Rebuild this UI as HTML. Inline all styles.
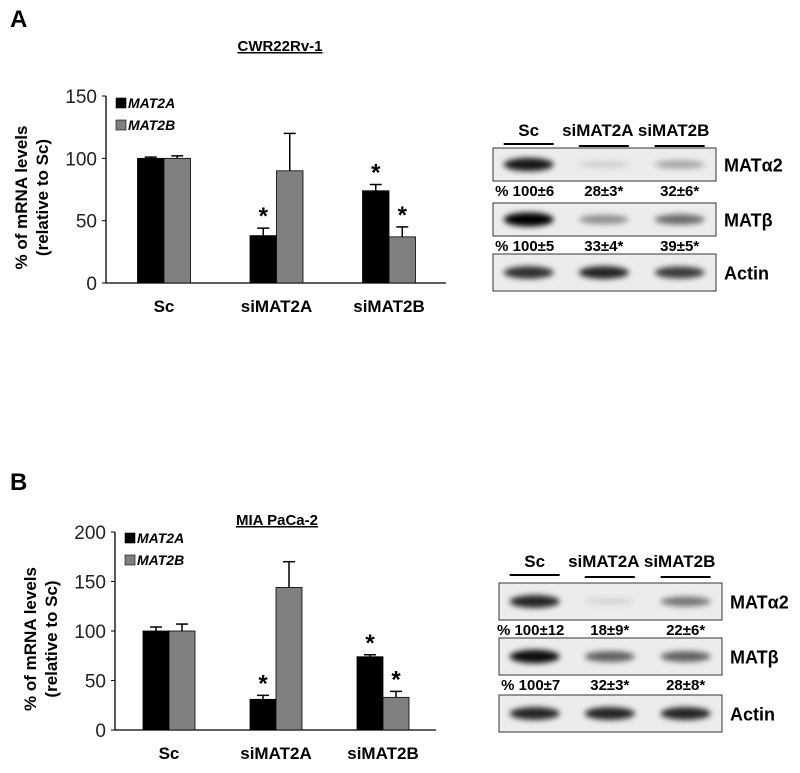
<!DOCTYPE html>
<html><head><meta charset="utf-8"><style>
body{margin:0;background:#fff;width:800px;height:768px;overflow:hidden;font-family:"Liberation Sans",Arial,sans-serif}
svg text{font-family:"Liberation Sans",Arial,sans-serif}
</style></head><body>
<svg id="fig" width="800" height="768" viewBox="0 0 800 768">
<defs><filter id="bl" x="-20%" y="-100%" width="140%" height="300%"><feGaussianBlur stdDeviation="3"/></filter></defs>
<text x="10" y="27" font-size="24" font-weight="bold">A</text>
<text x="280" y="51" font-size="15" font-weight="bold" text-anchor="middle" text-decoration="underline">CWR22Rv-1</text>
<text x="10" y="490" font-size="24" font-weight="bold">B</text>
<text x="277" y="525" font-size="15" font-weight="bold" text-anchor="middle" text-decoration="underline">MIA PaCa-2</text>
<g id="chartA"></g>
<g id="chartB"></g>
<g id="blots"></g>
</svg>
<script>
const categories=["Sc","siMAT2A","siMAT2B"];
const seriesNames=["MAT2A","MAT2B"];
const aMat2a=[100,38,74], aMat2aErr=[1,6,5];
const aMat2b=[100,90,37], aMat2bErr=[2,30,8];
const aSig=[[false,false],[true,false],[true,true]];
const aTicks=[0,50,100,150];
const bMat2a=[100,31,74], bMat2aErr=[4,4,2];
const bMat2b=[100,144,33], bMat2bErr=[7,26,6];
const bSig=[[false,false],[true,false],[true,true]];
const bTicks=[0,50,100,150,200];
const NS="http://www.w3.org/2000/svg";
function mk(p,t,a,txt){const e=document.createElementNS(NS,t);for(const k in a)e.setAttribute(k,a[k]);if(txt!==undefined)e.textContent=txt;p.appendChild(e);return e;}
function chart(g,cfg){
  const y=v=>cfg.y0-(v/cfg.max)*(cfg.y0-cfg.yTop);
  const ax=mk(g,'line',{x1:cfg.ax,y1:cfg.yTop,x2:cfg.ax,y2:cfg.y0,stroke:'#000','stroke-width':1.3});
  
  const xl=mk(g,'line',{x1:cfg.ax,y1:cfg.y0,x2:cfg.axEnd,y2:cfg.y0,stroke:'#000','stroke-width':1.3});
  
  cfg.ticks.forEach(t=>{
    mk(g,'line',{x1:cfg.ax-4,y1:y(t),x2:cfg.ax,y2:y(t),stroke:'#000'});
    const tl=mk(g,'text',{x:cfg.ax-9,y:y(t)+7,'font-size':19,'text-anchor':'end',fill:'#222'},t);
    
  });
  const yt=mk(g,'text',{transform:`translate(${cfg.ax-79},${(cfg.y0+cfg.yTop)/2+8}) rotate(-90)`,'font-size':17,'font-weight':'bold','text-anchor':'middle'});
  
  mk(yt,'tspan',{x:0,dy:0},'% of mRNA levels');mk(yt,'tspan',{x:0,dy:21},'(relative to Sc)');
  const bw=cfg.bw;
  categories.forEach((c,i)=>{
    const cx=cfg.c0+i*cfg.step;
    const vals=[cfg.a[i],cfg.b[i]],errs=[cfg.ae[i],cfg.be[i]];
    vals.forEach((v,s)=>{
      const x=s===0?cx-bw:cx;
      const eb=mk(g,'line',{x1:x+bw/2,y1:y(v),x2:x+bw/2,y2:y(v+errs[s]),stroke:'#000','stroke-width':1.5});
      
      mk(g,'line',{x1:x+bw/2-6,y1:y(v+errs[s]),x2:x+bw/2+6,y2:y(v+errs[s]),stroke:'#000','stroke-width':1.5});
      const r=mk(g,'rect',{x:x,y:y(v),width:bw,height:cfg.y0-y(v),fill:s===0?'#000':'#808080',stroke:'#000','stroke-width':0.8});
      
      
      if(cfg.sig[i][s]){const st=mk(g,'text',{x:x+bw/2,y:y(v+errs[s])-4,'font-size':24,'font-weight':'bold','text-anchor':'middle'},'*');
        }
    });
    const cl=mk(g,'text',{x:cx,y:cfg.y0+29,'font-size':17,'font-weight':'bold','text-anchor':'middle'},c);
    
  });
  [0,1].forEach(s=>{
    const ly=cfg.legY+s*22;
    const lr=mk(g,'rect',{x:cfg.ax+10,y:ly-10,width:10,height:10,fill:s===0?'#000':'#808080',stroke:'#000','stroke-width':0.6});
    
    const lt=mk(g,'text',{x:cfg.ax+22,y:ly,'font-size':14,'font-weight':'bold','font-style':'italic'},seriesNames[s]);
    
  });
}
chart(document.getElementById('chartA'),{ax:106,axEnd:446,y0:283,yTop:96,max:150,ticks:aTicks,c0:164,step:112.5,bw:26.5,a:aMat2a,ae:aMat2aErr,b:aMat2b,be:aMat2bErr,sig:aSig,legY:108});
chart(document.getElementById('chartB'),{ax:115,axEnd:436,y0:730,yTop:532,max:200,ticks:bTicks,c0:169,step:107,bw:26,a:bMat2a,ae:bMat2aErr,b:bMat2b,be:bMat2bErr,sig:bSig,legY:543});

const blotsG=document.getElementById('blots');
function blot(cfg){
  const lanes=[cfg.x0+cfg.w*0.16,cfg.x0+cfg.w*0.47,cfg.x0+cfg.w*0.81];
  categories.forEach((c,i)=>{
    const h=mk(blotsG,'text',{x:lanes[i],y:cfg.hy,'font-size':17,'font-weight':'bold','text-anchor':'middle'},c);
    
    const ux=i===0?lanes[i]:lanes[i]+6;
    mk(blotsG,'line',{x1:ux-25,y1:cfg.hy+(i===0?8:10),x2:ux+25,y2:cfg.hy+(i===0?8:10),stroke:'#000','stroke-width':2});
  });
  cfg.boxes.forEach((b,k)=>{
    const r=mk(blotsG,'rect',{x:cfg.x0,y:b.y,width:cfg.w,height:b.h,fill:'#ececec',stroke:'#333','stroke-width':1});
    
    b.int.forEach((v,i)=>{
      mk(blotsG,'ellipse',{cx:lanes[i]+(i===0?0:6),cy:b.y+b.h/2,rx:25,ry:3+v*4,fill:'#000','fill-opacity':v,filter:'url(#bl)'});
    });
    const l=mk(blotsG,'text',{x:cfg.x0+cfg.w+8,y:b.y+b.h/2+7,'font-size':18,'font-weight':'bold'},b.label);
    
    if(b.q){b.q.forEach((t,i)=>{const q=mk(blotsG,'text',{x:lanes[i]+(i===0?-4:6),y:b.y+b.h+15,'font-size':15,'font-weight':'bold','text-anchor':'middle'},t);
      });}
  });
}
blot({x0:493,w:223,hy:136,boxes:[
 {name:'mata2',label:'MATα2',y:148,h:33,int:[0.9,0.12,0.3],q:['% 100±6','28±3*','32±6*']},
 {name:'matb',label:'MATβ',y:203,h:33,int:[1,0.4,0.55],q:['% 100±5','33±4*','39±5*']},
 {name:'actin',label:'Actin',y:254,h:37,int:[0.8,0.85,0.75]}]});
blot({x0:499,w:223,hy:567,boxes:[
 {name:'mata2',label:'MATα2',y:583,h:37,int:[0.85,0.1,0.5],q:['% 100±12','18±9*','22±6*']},
 {name:'matb',label:'MATβ',y:638,h:37,int:[0.95,0.6,0.6],q:['% 100±7','32±3*','28±8*']},
 {name:'actin',label:'Actin',y:695,h:37,int:[0.85,0.85,0.85]}]});
</script>
</body></html>
